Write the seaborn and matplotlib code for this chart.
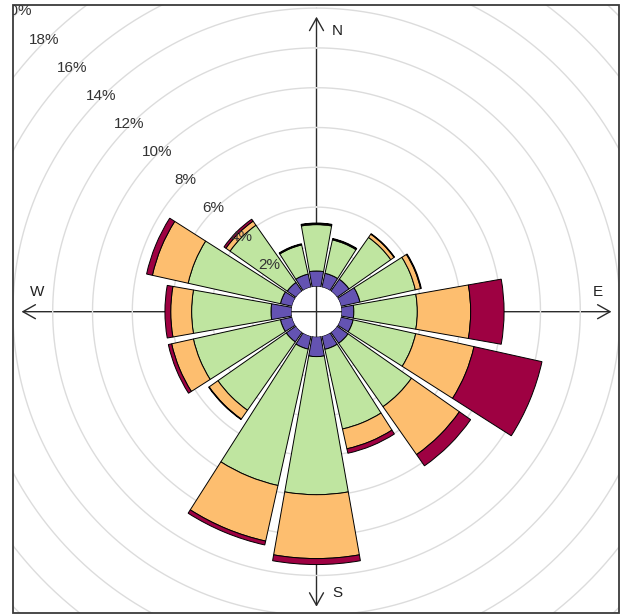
import numpy as np
import pandas as pd
import seaborn as sns
import matplotlib.pyplot as plt
from matplotlib.patches import Rectangle

# Wind direction sectors (degrees clockwise from north)
directions = [0, 22.5, 45, 67.5, 90, 112.5, 135, 157.5,
              180, 202.5, 225, 247.5, 270, 292.5, 315, 337.5]

# Frequency (%) of each wind-speed band per direction sector
ws_band1 = [0.79, 0.72, 0.74, 0.98, 0.62, 0.63, 0.68, 0.68,
            1.00, 0.67, 0.60, 0.60, 1.03, 0.60, 0.54, 0.68]
ws_band2 = [2.33, 1.72, 2.56, 2.85, 3.19, 3.22, 3.89, 4.10,
            6.94, 7.02, 4.19, 4.48, 3.99, 4.75, 3.51, 1.50]
ws_band3 = [0.05, 0.04, 0.20, 0.27, 2.68, 3.00, 2.94, 1.02,
            3.21, 2.86, 0.54, 1.12, 1.05, 1.84, 0.25, 0.03]
ws_band4 = [0.03, 0.03, 0.03, 0.04, 1.68, 3.50, 0.69, 0.23,
            0.30, 0.20, 0.03, 0.17, 0.29, 0.30, 0.12, 0.03]

band_colours = ["#6453B2", "#BFE5A0", "#FDBE6F", "#9E0142"]
grid_levels = [2, 4, 6, 8, 10, 12, 14, 16, 18, 20]
compass_labels = ["N", "E", "S", "W"]
compass_angles = [0, 90, 180, 270]

df = pd.DataFrame({"dir": directions, "b1": ws_band1, "b2": ws_band2,
                   "b3": ws_band3, "b4": ws_band4})

sns.set_theme(style="white")
plt.rcParams["font.family"] = ["Liberation Sans", "DejaVu Sans"]

W, H = 623, 615
fig = plt.figure(figsize=(W / 100, H / 100), dpi=100)

# layout in pixels
cx, cy = 316.5, 311.7          # plot centre (from top-left)
k = 19.9                       # pixels per percent
hole = 25.0 / k                # radius of the empty centre (percent units)
px_left, px_right, px_top, px_bottom = 13, 619, 5, 613

# rectangular panel: compass arrows
frame = fig.add_axes([px_left / W, (H - px_bottom) / H,
                      (px_right - px_left) / W, (px_bottom - px_top) / H])
frame.set_xlim((px_left - cx) / k, (px_right - cx) / k)
frame.set_ylim((cy - px_bottom) / k, (cy - px_top) / k)
frame.set_facecolor("white")
for s in frame.spines.values():
    s.set_visible(False)
frame.set_xticks([])
frame.set_yticks([])

arrow_len = 295 / k
for lab, ang in zip(compass_labels, compass_angles):
    a = np.deg2rad(ang)
    tip = (arrow_len * np.sin(a), arrow_len * np.cos(a))
    frame.annotate("", xy=tip, xytext=(0, 0),
                   arrowprops=dict(arrowstyle="->,head_length=0.75,head_width=0.42",
                                   color="#2b2b2b", lw=1.0, shrinkA=0, shrinkB=0))
label_pos = {"N": (20.5, 281), "E": (281, 19.5), "S": (20.5, -281.5), "W": (-279, 20)}
for lab in compass_labels:
    x, y = label_pos[lab]
    frame.text(x / k, y / k, lab, ha="center", va="center", fontsize=11, color="#222222")

# polar layer for the rose itself
rmax = 21.0
R = (rmax + hole) * k
ax = fig.add_axes([(cx - R) / W, (H - cy - R) / H, 2 * R / W, 2 * R / H],
                  projection="polar")
ax.set_theta_zero_location("N")
ax.set_theta_direction(-1)
ax.set_rorigin(-hole)
ax.set_ylim(0, rmax)
ax.set_axis_off()

theta_full = np.linspace(0, 2 * np.pi, 721)
for v in grid_levels:
    ln, = ax.plot(theta_full, np.full_like(theta_full, v), color="#dcdcdc",
                  lw=1.0, zorder=1)
    ln.set_clip_box(frame.bbox)

theta = np.deg2rad(df["dir"].values)
bottom = np.zeros(len(df))
for col, colour in zip(["b1", "b2", "b3", "b4"], band_colours):
    vals = df[col].values
    ax.bar(theta, vals, width=np.deg2rad(20.0), bottom=bottom, color=colour,
           edgecolor="black", linewidth=0.7, align="center", zorder=2)
    bottom = bottom + vals

for v in grid_levels:
    t = ax.text(np.deg2rad(315), v + 0.08, f"{v}%", ha="center", va="center",
                fontsize=11, color="#333333", zorder=5, clip_on=True)
    t.set_clip_box(frame.bbox)

# panel border
fig.add_artist(Rectangle((px_left / W, (H - px_bottom) / H),
                         (px_right - px_left) / W, (px_bottom - px_top) / H,
                         transform=fig.transFigure, fill=False,
                         edgecolor="#3a3a3a", lw=1.3, zorder=10))

fig.savefig("out.png", dpi=100)
